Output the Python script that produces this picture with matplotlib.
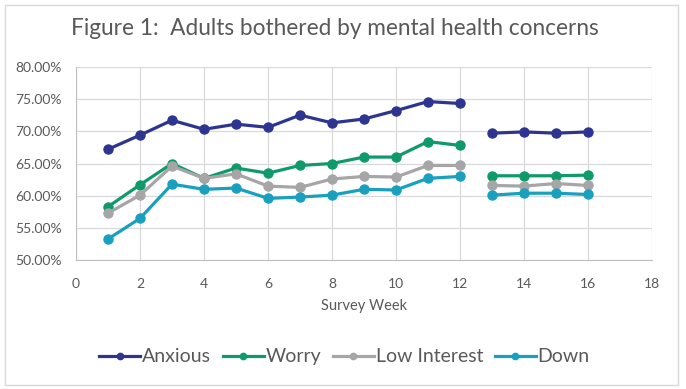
import matplotlib.pyplot as plt
import numpy as np
from matplotlib.patches import Rectangle
from matplotlib.ticker import PercentFormatter

weeks = [1, 2, 3, 4, 5, 6, 7, 8, 9, 10, 11, 12, 13, 14, 15, 16]
# week 12 -> 13 has a break in the series
anxious = [67.2, 69.4, 71.7, 70.3, 71.1, 70.6, 72.5, 71.3, 71.9, 73.2, 74.6, 74.3, 69.7, 69.9, 69.7, 69.9]
worry = [58.3, 61.7, 65.0, 62.7, 64.3, 63.5, 64.7, 65.0, 66.0, 66.0, 68.4, 67.8, 63.1, 63.1, 63.1, 63.2]
low_interest = [57.3, 60.1, 64.6, 62.7, 63.4, 61.5, 61.3, 62.6, 63.0, 62.9, 64.7, 64.7, 61.6, 61.5, 61.9, 61.6]
down = [53.3, 56.5, 61.8, 61.0, 61.2, 59.6, 59.8, 60.1, 61.0, 60.9, 62.7, 63.0, 60.1, 60.4, 60.4, 60.2]

series = [
    ("Anxious", anxious, "#2E3590"),
    ("Worry", worry, "#0F9A6A"),
    ("Low Interest", low_interest, "#A6A6A6"),
    ("Down", down, "#19A0BF"),
]

plt.rcParams["font.family"] = ["Lato", "DejaVu Sans"]
text_col = "#595959"

fig = plt.figure(figsize=(6.86, 3.89), dpi=100)
ax = fig.add_axes([0.1108, 0.3308, 0.8396, 0.4977])

x = np.array(weeks, dtype=float)
for name, vals, col in series:
    y = np.array(vals, dtype=float) / 100
    # split at the gap between week 12 and 13
    x_plot = np.concatenate([x[:12], [np.nan], x[12:]])
    y_plot = np.concatenate([y[:12], [np.nan], y[12:]])
    ax.plot(x_plot, y_plot, color=col, lw=2.3, marker="o", markersize=6.5,
            label=name, zorder=3)

ax.set_xlim(0, 18)
ax.set_ylim(0.5, 0.8)
ax.set_xticks(range(0, 19, 2))
ax.set_yticks(np.arange(0.5, 0.801, 0.05))
ax.yaxis.set_major_formatter(PercentFormatter(1.0, decimals=2))
ax.grid(True, color="#D9D9D9", lw=0.9)
ax.set_axisbelow(True)
for s in ["top", "right"]:
    ax.spines[s].set_visible(False)
ax.spines["left"].set_color("#BFBFBF")
ax.spines["bottom"].set_color("#BFBFBF")
ax.tick_params(length=0, labelsize=10, colors=text_col)
ax.tick_params(axis="x", pad=13)
ax.tick_params(axis="y", pad=10)
ax.set_xlabel("Survey Week", fontsize=10.5, color=text_col, labelpad=6)

fig.text(0.488, 0.928, "Figure 1:  Adults bothered by mental health concerns",
         ha="center", va="center", fontsize=16.3, color=text_col)

leg = ax.legend(loc="upper center", bbox_to_anchor=(0.466, -0.365), ncol=4,
                frameon=False, fontsize=14, handlelength=2.1, handletextpad=0.1,
                columnspacing=0.6, labelcolor=text_col, markerscale=0.7)

fig.patches.append(Rectangle((0.0068, 0.0103), 0.981, 0.977, transform=fig.transFigure,
                             fill=False, edgecolor="#D9D9D9", lw=1))

fig.savefig("out.png", dpi=100)
